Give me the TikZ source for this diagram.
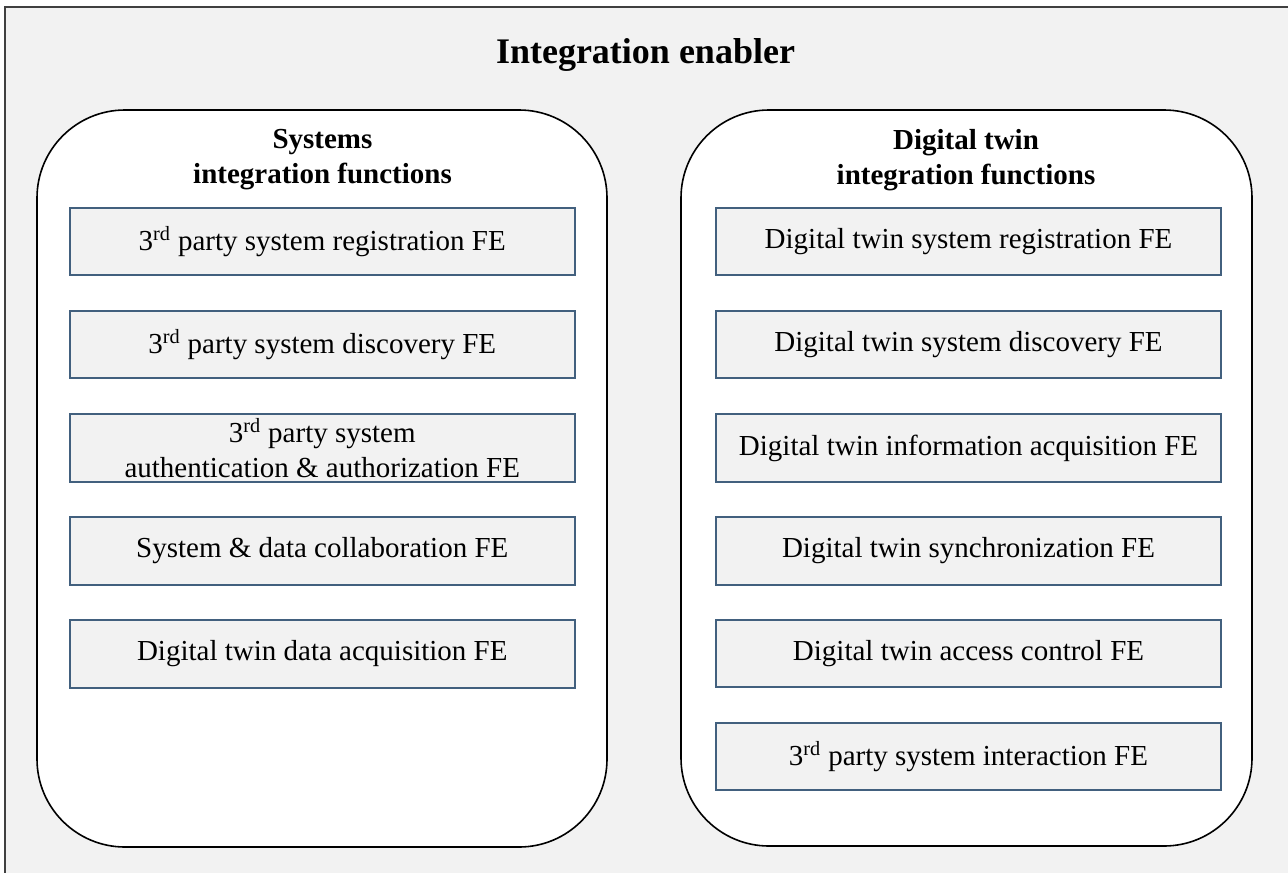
\documentclass[tikz,border=0pt]{standalone}
\usepackage{fontspec}
\setmainfont{Liberation Serif}
\definecolor{bgfill}{HTML}{F2F2F2}
\definecolor{outerline}{HTML}{404040}
\definecolor{feline}{HTML}{42607E}
\tikzset{
  fe/.style={draw=feline, line width=1.4pt, fill=bgfill, minimum width=378.9pt, minimum height=50.4pt, inner sep=0pt, align=center, font=\fontsize{21.75}{26.25}\selectfont},
  group/.style={draw=black, line width=1.2pt, fill=white, rounded corners=66pt, inner sep=0pt},
  grouptitle/.style={align=center, font=\fontsize{21.75}{26.25}\selectfont\bfseries},
  maintitle/.style={font=\fontsize{27}{32}\selectfont\bfseries}
}
\begin{document}
\begin{tikzpicture}[x=0.75pt,y=-0.75pt]
\useasboundingbox (0,0) rectangle (1288,872);
\clip (0,0) rectangle (1288,872);
\node[draw=outerline, line width=1.5pt, fill=bgfill, anchor=north west, minimum width=969pt, minimum height=654pt, inner sep=0pt] (outer) at (4,6) {};
\node[maintitle, anchor=base] (title) at (645.5,63) {Integration enabler};
\node[group, minimum width=427.5pt, minimum height=552.75pt] (left) at (322,478.5) {};
\node[group, minimum width=428.25pt, minimum height=552pt] (right) at (966.5,478) {};
\node[grouptitle] (lt) at (322.5,160) {Systems\\integration functions};
\node[grouptitle] (rt) at (966,160) {Digital twin\\integration functions};
\node[fe] (l1) at (322.25,241.5) {3\textsuperscript{rd} party system registration FE};
\node[fe] (l2) at (322.25,344.5) {3\textsuperscript{rd} party system discovery FE};
\node[fe] (l3) at (322.25,448) {3\textsuperscript{rd} party system\\authentication \& authorization FE};
\node[fe] (l4) at (322.25,551) {System \& data collaboration FE};
\node[fe] (l5) at (322.25,654) {Digital twin data acquisition FE};
\node[fe] (r1) at (968.5,241.5) {Digital twin system registration FE};
\node[fe] (r2) at (968.5,344.5) {Digital twin system discovery FE};
\node[fe] (r3) at (968.5,448) {Digital twin information acquisition FE};
\node[fe] (r4) at (968.5,551) {Digital twin synchronization FE};
\node[fe] (r5) at (968.5,653.5) {Digital twin access control FE};
\node[fe] (r6) at (968.5,756.5) {3\textsuperscript{rd} party system interaction FE};
\end{tikzpicture}
\end{document}
